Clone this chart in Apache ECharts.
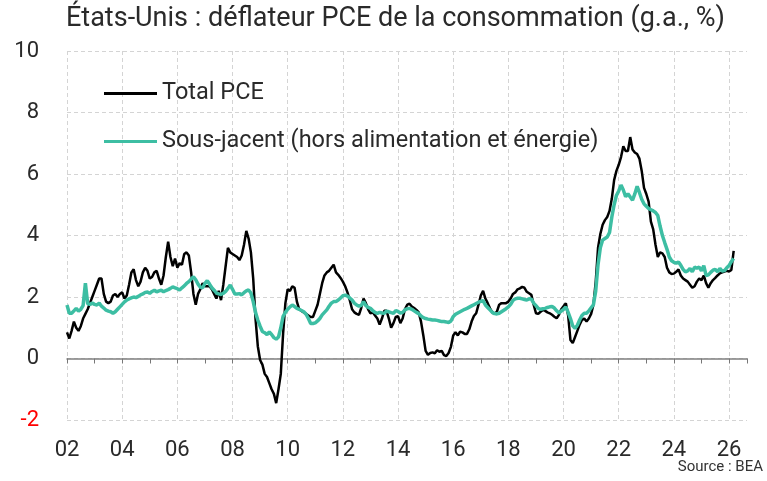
<!DOCTYPE html>
<html><head><meta charset="utf-8">
<script src="https://cdn.jsdelivr.net/npm/echarts@6/dist/echarts.min.js"></script>
<style>html,body{margin:0;padding:0;background:#fff}#c{width:767px;height:481px}</style>
</head><body><div id="c"></div>
<script>
// Monthly series, starting January 2002
const startYear = 2002;
const totalPCE = [
0.85,0.65,0.9,1.2,1.0,0.9,1.05,1.3,1.45,1.6,1.8,2.0,
2.2,2.4,2.6,2.6,2.1,1.85,1.8,1.85,2.05,2.1,2.0,2.1,
2.15,1.95,2.05,2.4,2.8,2.9,2.55,2.35,2.5,2.8,2.95,2.85,
2.6,2.65,2.8,2.85,2.6,2.4,2.7,3.3,3.8,3.3,3.0,3.25,
2.95,3.1,3.05,3.4,3.45,3.35,2.8,2.1,1.75,2.1,2.25,2.45,
2.35,2.35,2.35,2.25,2.1,1.95,2.2,1.9,2.4,3.0,3.6,3.45,
3.4,3.35,3.3,3.2,3.35,3.7,4.15,3.9,3.45,2.6,1.3,0.4,
-0.05,-0.2,-0.5,-0.6,-0.8,-1.0,-1.15,-1.45,-1.0,-0.5,0.8,1.8,
2.25,2.2,2.35,2.3,1.85,1.6,1.55,1.5,1.45,1.4,1.35,1.35,
1.55,1.75,2.1,2.45,2.7,2.8,2.85,2.95,3.05,2.8,2.72,2.62,
2.5,2.35,2.15,1.9,1.6,1.5,1.45,1.42,1.65,1.95,1.8,1.6,
1.47,1.5,1.4,1.3,1.1,1.3,1.55,1.55,1.3,1.0,1.15,1.35,
1.38,1.15,1.3,1.6,1.75,1.78,1.69,1.64,1.58,1.5,1.2,0.75,
0.25,0.12,0.18,0.2,0.17,0.27,0.22,0.25,0.11,0.08,0.18,0.38,
0.75,0.85,0.75,0.87,0.85,0.8,0.8,0.95,1.2,1.38,1.47,1.75,
2.05,2.2,1.95,1.8,1.63,1.5,1.45,1.52,1.75,1.8,1.8,1.8,
1.85,1.95,2.1,2.15,2.25,2.28,2.33,2.3,2.17,2.12,2.07,1.75,
1.47,1.45,1.52,1.58,1.55,1.5,1.47,1.42,1.36,1.31,1.42,1.6,
1.7,1.8,1.4,0.6,0.5,0.7,0.9,1.1,1.25,1.3,1.2,1.3,
1.45,1.75,2.5,3.6,4.05,4.35,4.5,4.6,4.8,5.2,5.8,6.1,
6.3,6.55,6.9,6.75,6.75,7.2,6.8,6.7,6.65,6.5,6.1,5.55,
5.35,5.1,4.45,4.2,3.7,3.3,3.45,3.42,3.3,2.95,2.8,2.75,
2.76,2.82,2.9,2.7,2.6,2.55,2.5,2.4,2.3,2.35,2.5,2.6,
2.55,2.7,2.45,2.3,2.45,2.55,2.62,2.7,2.77,2.8,2.83,2.85,
2.83,2.88,3.5
];
const corePCE = [
1.74,1.47,1.47,1.55,1.63,1.54,1.6,1.72,2.45,1.78,1.76,1.8,
1.76,1.74,1.8,1.7,1.64,1.57,1.54,1.52,1.47,1.52,1.6,1.68,
1.76,1.84,1.9,1.94,1.97,2.0,1.98,2.02,2.07,2.1,2.15,2.16,
2.12,2.18,2.22,2.17,2.2,2.22,2.17,2.21,2.24,2.28,2.33,2.3,
2.27,2.23,2.3,2.36,2.44,2.5,2.58,2.66,2.56,2.42,2.32,2.3,
2.44,2.53,2.42,2.3,2.22,2.13,2.1,2.08,2.12,2.18,2.28,2.39,
2.25,2.1,2.1,2.11,2.07,2.14,2.2,2.23,2.13,1.85,1.5,1.25,
1.05,0.88,0.84,0.78,0.86,0.78,0.68,0.63,0.7,1.0,1.37,1.5,
1.6,1.68,1.74,1.69,1.63,1.6,1.56,1.52,1.44,1.3,1.14,1.14,
1.16,1.22,1.3,1.42,1.5,1.58,1.7,1.8,1.85,1.85,1.9,1.97,
2.04,2.06,2.03,1.97,1.9,1.8,1.74,1.7,1.73,1.85,1.72,1.66,
1.63,1.56,1.5,1.47,1.5,1.48,1.47,1.54,1.52,1.49,1.47,1.56,
1.53,1.48,1.5,1.58,1.62,1.63,1.6,1.55,1.5,1.46,1.38,1.33,
1.3,1.28,1.27,1.25,1.25,1.24,1.22,1.2,1.2,1.19,1.17,1.22,
1.36,1.44,1.48,1.52,1.56,1.6,1.63,1.67,1.71,1.75,1.79,1.83,
1.86,1.88,1.74,1.66,1.58,1.5,1.46,1.45,1.47,1.52,1.57,1.62,
1.68,1.76,1.89,1.94,1.96,1.96,1.94,1.92,1.9,1.94,1.93,1.8,
1.72,1.63,1.6,1.62,1.63,1.66,1.68,1.69,1.64,1.55,1.48,1.54,
1.6,1.68,1.5,1.3,1.06,0.98,1.08,1.25,1.4,1.47,1.47,1.55,
1.65,1.75,2.2,3.05,3.6,3.85,3.9,3.95,4.1,4.6,5.0,5.3,
5.45,5.64,5.48,5.26,5.36,5.25,5.15,5.35,5.6,5.4,5.18,5.03,
4.95,4.88,4.84,4.8,4.75,4.65,4.3,4.0,3.77,3.55,3.3,3.18,
3.13,3.1,3.14,3.03,2.9,2.82,2.85,2.93,2.82,2.97,2.94,2.97,
2.85,3.02,2.7,2.72,2.8,2.87,2.9,2.82,2.93,2.84,2.86,2.95,
3.02,3.15,3.25
];
const seriesNames = ['Total PCE', 'Sous-jacent (hors alimentation et énergie)'];
const titleText = 'États-Unis : déflateur PCE de la consommation (g.a., %)';
const sourceText = 'Source : BEA';
const yearTicks = ['02','04','06','08','10','12','14','16','18','20','22','24','26'];

const FONT = "Roboto, 'Noto Sans', sans-serif";
const xVals = totalPCE.map((_, i) => startYear + i / 12);
const toPairs = arr => arr.map((v, i) => [xVals[i], v]);

const grid = '#d4d4d4';
const chart = echarts.init(document.getElementById('c'), null, {renderer: 'canvas'});
chart.setOption({
  animation: false,
  backgroundColor: '#fff',
  title: {
    text: titleText, left: 66, top: 6, padding: 0,
    textStyle: {fontFamily: FONT, fontSize: 27, fontWeight: 'normal', color: '#2a2a2a'}
  },
  graphic: [{
    type: 'text', right: 4, top: 460,
    style: {text: sourceText, fontFamily: FONT, fontSize: 15, fill: '#333'}
  }],
  legend: {
    orient: 'vertical', left: 104, top: 80, padding: 0,
    itemWidth: 53, itemHeight: 3, itemGap: 21, icon: 'rect',
    textStyle: {fontFamily: FONT, fontSize: 23.5, color: '#2a2a2a', lineHeight: 27},
    data: seriesNames
  },
  grid: [
    {left: 67, right: 38, top: 51, bottom: 61},
    {left: 67, right: 20, top: 51, bottom: 61}
  ],
  xAxis: [
    {
      type: 'value', gridIndex: 0, min: 2002, max: 2026, interval: 2, position: 'bottom',
      axisLine: {show: false}, axisTick: {show: false},
      splitLine: {show: true, lineStyle: {color: grid, type: [4, 3], width: 1}},
      axisLabel: {
        margin: 19, fontFamily: FONT, fontSize: 22, color: '#2a2a2a',
        formatter: v => yearTicks[Math.round((v - 2002) / 2)] || ''
      }
    },
    {
      type: 'value', gridIndex: 1, min: 2002, max: 2026.65, interval: 1,
      axisLine: {show: true, onZero: true, lineStyle: {color: '#808080', width: 1.5}},
      axisTick: {show: true, length: 5, lineStyle: {color: '#777', width: 1}},
      axisLabel: {show: false}, splitLine: {show: false}
    }
  ],
  yAxis: [
    {type: 'value', gridIndex: 0, min: -2, max: 10, interval: 2, show: false,
     splitLine: {show: false}},
    {
      type: 'value', gridIndex: 1, min: -2, max: 10, interval: 2,
      axisLine: {show: false}, axisTick: {show: false},
      splitLine: {show: true, lineStyle: {color: grid, type: [4, 3], width: 1}},
      axisLabel: {
        margin: 28, fontFamily: FONT, fontSize: 22,
        color: v => (v < 0 ? '#ff0000' : '#2a2a2a')
      }
    }
  ],
  series: [
    {
      name: seriesNames[0], type: 'line', xAxisIndex: 1, yAxisIndex: 1,
      data: toPairs(totalPCE), showSymbol: false, symbol: 'none',
      lineStyle: {color: '#000', width: 2.5}, itemStyle: {color: '#000'}, z: 3
    },
    {
      name: seriesNames[1], type: 'line', xAxisIndex: 1, yAxisIndex: 1,
      data: toPairs(corePCE), showSymbol: false, symbol: 'none',
      lineStyle: {color: '#3dbea3', width: 3.5}, itemStyle: {color: '#3dbea3'}, z: 4
    }
  ]
});
</script>
</body></html>
